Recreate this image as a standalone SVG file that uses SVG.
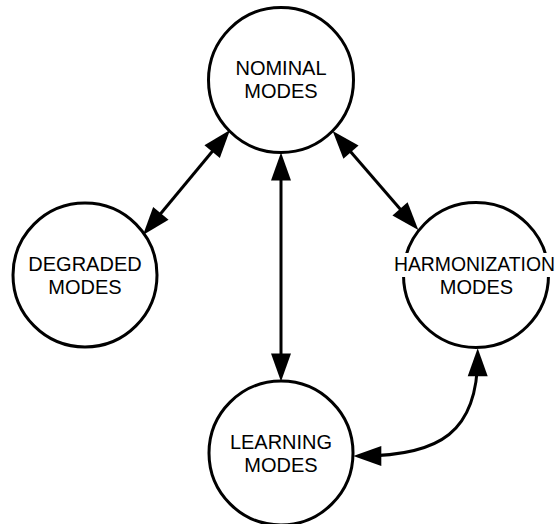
<svg xmlns="http://www.w3.org/2000/svg" width="557" height="524" viewBox="0 0 557 524">
<style>
.node circle{fill:#fff;stroke:#000;stroke-width:3}
.node text{font-family:"Liberation Sans",Arial,sans-serif;font-size:20px;fill:#000;text-anchor:middle}
#connectors path{fill:none;stroke:#000;stroke-width:3;marker-start:url(#ah);marker-end:url(#ah)}
</style>
<defs>
<marker id="ah" markerUnits="userSpaceOnUse" markerWidth="28" markerHeight="20" refX="20" refY="10" orient="auto-start-reverse" overflow="visible">
<path d="M0,0 L28,10 L0,20 z" fill="#000"/>
</marker>
</defs>
<rect width="557" height="524" fill="#fff"/>
<g id="nominal" class="node">
<circle cx="281" cy="80" r="72.5"/>
<text x="281" y="75">NOMINAL</text>
<text x="281" y="98">MODES</text>
</g>
<g id="degraded" class="node">
<circle cx="85" cy="275" r="72"/>
<text x="85" y="271">DEGRADED</text>
<text x="85" y="294">MODES</text>
</g>
<g id="harmonization" class="node">
<circle cx="476" cy="275" r="72.5"/>
<rect x="393" y="253" width="164" height="24" fill="#fff"/>
<text x="474.5" y="271" style="font-size:19.4px">HARMONIZATION</text>
<text x="476.5" y="294">MODES</text>
</g>
<g id="learning" class="node">
<circle cx="281" cy="453" r="72"/>
<text x="281" y="449">LEARNING</text>
<text x="281" y="472">MODES</text>
</g>
<g id="connectors">
<path d="M224.9,136.2 L148.1,228.8"/>
<path d="M281,160.5 L281,373.5"/>
<path d="M337.9,137 L413.1,224"/>
<path d="M477.7,356.3 C477.7,432 440,456 361.3,456"/>
</g>
</svg>
